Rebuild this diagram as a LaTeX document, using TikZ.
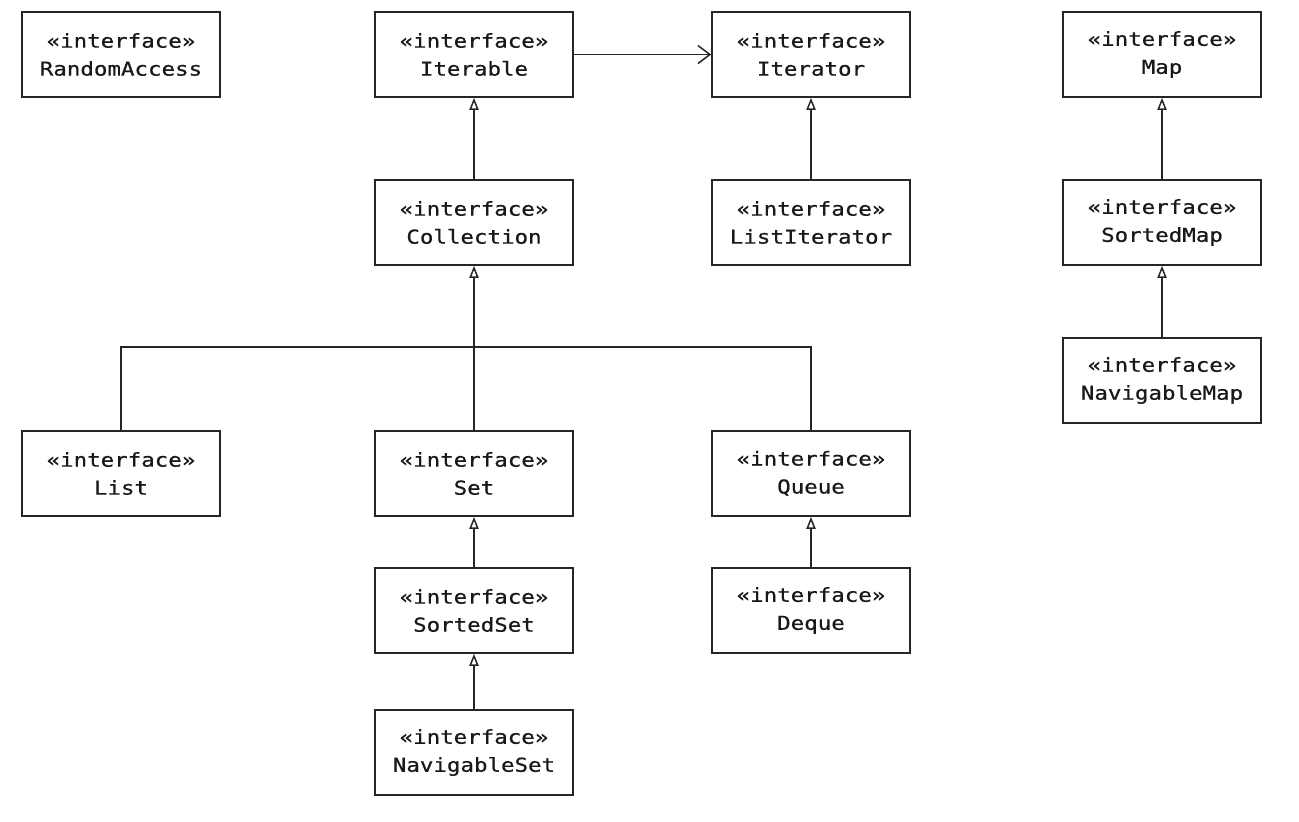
\documentclass[tikz,border=0pt]{standalone}
\usepackage{fontspec}
\usetikzlibrary{arrows.meta}
\newfontfamily\umlfont[FakeStretch=1.17,FakeBold=0.6]{DejaVu Sans Mono}
\tikzset{
  iface/.style={draw=black!85, line width=0.85pt, fill=white,
    minimum width=99pt, minimum height=42.5pt, inner sep=0pt,
    align=center, text=black!90, font=\umlfont\fontsize{9.6}{14}\selectfont},
  gen/.style={draw=black!85, line width=0.75pt, -{Triangle[open, length=6pt, width=4.6pt]}},
  assoc/.style={draw=black!85, line width=0.75pt, -{Straight Barb[length=6pt, width=9pt]}},
  bus/.style={draw=black!85, line width=0.75pt}
}
\begin{document}
\begin{tikzpicture}[x=0.5pt, y=-0.5pt]
\useasboundingbox (0,0) rectangle (1299,821);
\node[iface] (ra)  at (121,54.5)  {«interface»\\RandomAccess};
\node[iface] (itb) at (474,54.5)  {«interface»\\Iterable};
\node[iface] (itr) at (811,54.5)  {«interface»\\Iterator};
\node[iface] (map) at (1162,54.5) {«interface»\\Map};
\node[iface] (col) at (474,222.5) {«interface»\\Collection};
\node[iface] (lit) at (811,222.5) {«interface»\\ListIterator};
\node[iface] (smap) at (1162,222.5) {«interface»\\SortedMap};
\node[iface] (nmap) at (1162,380.5) {«interface»\\NavigableMap};
\node[iface] (list) at (121,473.5) {«interface»\\List};
\node[iface] (set)  at (474,473.5) {«interface»\\Set};
\node[iface] (que)  at (811,473.5) {«interface»\\Queue};
\node[iface] (sset) at (474,610.5) {«interface»\\SortedSet};
\node[iface] (deq)  at (811,610.5) {«interface»\\Deque};
\node[iface] (nset) at (474,752.5) {«interface»\\NavigableSet};
\coordinate (busL) at (121,347);
\coordinate (busR) at (811,347);
\draw[assoc] (itb.east) -- (itr.west);
\draw[gen] (col.north) -- (itb.south);
\draw[gen] (lit.north) -- (itr.south);
\draw[gen] (smap.north) -- (map.south);
\draw[gen] (nmap.north) -- (smap.south);
\draw[gen] (set.north) -- (col.south);
\draw[bus] (list.north) -- (busL) -- (busR) -- (que.north);
\draw[gen] (sset.north) -- (set.south);
\draw[gen] (nset.north) -- (sset.south);
\draw[gen] (deq.north) -- (que.south);
\end{tikzpicture}
\end{document}
